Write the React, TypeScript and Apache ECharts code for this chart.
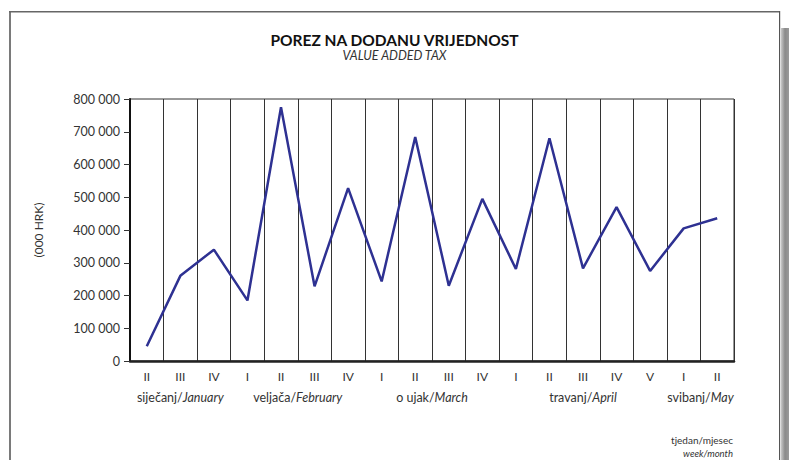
import React, { useEffect, useRef } from "react";
import * as echarts from "echarts";

const weeks = ["II", "III", "IV", "I", "II", "III", "IV", "I", "II", "III", "IV", "I", "II", "III", "IV", "V", "I", "II"];
const vatValues = [45000, 260000, 340000, 185000, 775000, 228000, 528000, 243000, 684000, 230000, 495000, 281000, 680000, 283000, 470000, 275000, 405000, 436000];
const months = ["siječanj/January", "veljača/February", "o ujak/March", "travanj/April", "svibanj/May"];
const yTicks = [0, 100000, 200000, 300000, 400000, 500000, 600000, 700000, 800000];

const titleText = "POREZ NA DODANU VRIJEDNOST";
const subtitleText = "VALUE ADDED TAX";
const yName = "(000 HRK)";
const footLine1 = "tjedan/mjesec";
const footLine2 = "week/month";

const FONT = "Lato, 'Open Sans', sans-serif";

// Build half-week slot labels so that month names sit at the centre of their weeks
function buildMonthSlots(): string[] {
  const starts: number[] = [0];
  weeks.forEach((w, i) => {
    if (i > 0 && w === "I") starts.push(i);
  });
  const slots: string[] = new Array(weeks.length * 2 + 1).fill("");
  starts.forEach((s, mi) => {
    const end = mi + 1 < starts.length ? starts[mi + 1] : weeks.length;
    const centre = s + end; // (s+end)/2 in weeks, times 2 for half slots
    slots[centre] = months[mi];
  });
  return slots;
}

function fmt(v: number): string {
  const s = String(Math.round(v));
  return s.replace(/\B(?=(\d{3})+(?!\d))/g, " ");
}

export default function App() {
  const ref = useRef<HTMLDivElement>(null);
  useEffect(() => {
    if (!ref.current) return;
    const chart = echarts.init(ref.current, undefined, { renderer: "svg" });
    const monthSlots = buildMonthSlots();
    chart.setOption({
      animation: false,
      backgroundColor: "#ffffff",
      title: {
        text: titleText,
        subtext: subtitleText,
        left: "center",
        top: 27,
        itemGap: 1,
        textStyle: { fontFamily: FONT, fontWeight: "bold", fontSize: 15.5, color: "#111" },
        subtextStyle: { fontFamily: FONT, fontStyle: "italic", fontSize: 12.5, color: "#333" },
      },
      grid: {
        left: 130,
        right: 55,
        top: 99,
        bottom: 99,
        show: true,
        borderColor: "#333",
        borderWidth: 1,
        backgroundColor: "transparent",
      },
      xAxis: [
        {
          type: "category",
          data: weeks,
          boundaryGap: true,
          position: "bottom",
          axisLine: { show: true, lineStyle: { color: "#222", width: 2.5 } },
          axisTick: { show: false },
          splitLine: { show: true, interval: 0, lineStyle: { color: "#333", width: 1 } },
          axisLabel: { interval: 0, margin: 9, fontFamily: FONT, fontSize: 12, color: "#333" },
        },
        {
          type: "category",
          data: monthSlots,
          boundaryGap: false,
          position: "bottom",
          axisLine: { show: false },
          axisTick: { show: false },
          splitLine: { show: false },
          axisLabel: {
            interval: 0,
            margin: 30,
            fontFamily: FONT,
            fontSize: 12,
            color: "#333",
            formatter: (v: string) => {
              if (!v) return "";
              const [a, b] = v.split("/");
              return `{n|${a}/}{i|${b}}`;
            },
            rich: {
              n: { fontFamily: FONT, fontSize: 12.5, color: "#333" },
              i: { fontFamily: FONT, fontSize: 12.5, color: "#333", fontStyle: "italic" },
            },
          },
        },
      ],
      yAxis: {
        type: "value",
        min: yTicks[0],
        max: yTicks[yTicks.length - 1],
        interval: yTicks[1] - yTicks[0],
        name: yName,
        nameLocation: "middle",
        nameRotate: 90,
        nameGap: 86,
        nameTextStyle: { fontFamily: FONT, fontSize: 12, color: "#333" },
        axisLine: { show: true, lineStyle: { color: "#111", width: 2 } },
        axisTick: { show: true, length: 6, lineStyle: { color: "#333", width: 1 } },
        splitLine: { show: false },
        axisLabel: { margin: 10, fontFamily: FONT, fontSize: 12.5, color: "#333", formatter: (v: number) => fmt(v) },
      },
      series: [
        {
          type: "line",
          xAxisIndex: 0,
          data: vatValues,
          symbol: "none",
          lineStyle: { color: "#2E3192", width: 2.5 },
          itemStyle: { color: "#2E3192" },
        },
      ],
      graphic: [
        // page frame
        { type: "rect", shape: { x: 9, y: 11, width: 2, height: 460 }, style: { fill: "#7a7a7a" }, silent: true },
        { type: "rect", shape: { x: 9, y: 11, width: 771, height: 1.5 }, style: { fill: "#666" }, silent: true },
        { type: "rect", shape: { x: 779, y: 11, width: 1.2, height: 460 }, style: { fill: "#555" }, silent: true },
        {
          type: "rect",
          shape: { x: 781, y: 28, width: 8, height: 440 },
          style: {
            fill: new echarts.graphic.LinearGradient(0, 0, 1, 0, [
              { offset: 0, color: "#c8c8c8" },
              { offset: 0.5, color: "#8a8a8a" },
              { offset: 1, color: "#9a9a9a" },
            ]),
          },
          silent: true,
        },
        {
          type: "text",
          right: 56,
          top: 435,
          style: { text: footLine1, fontFamily: FONT, fontSize: 10, fill: "#333", textAlign: "right" },
        },
        {
          type: "text",
          right: 56,
          top: 448,
          style: { text: footLine2, fontFamily: FONT, fontSize: 9.5, fontStyle: "italic", fill: "#333", textAlign: "right" },
        },
      ],
    });
    return () => chart.dispose();
  }, []);
  return (
    <div
      ref={ref}
      style={{ position: "fixed", left: 0, top: 0, width: 789, height: 460, background: "#fff" }}
    />
  );
}
